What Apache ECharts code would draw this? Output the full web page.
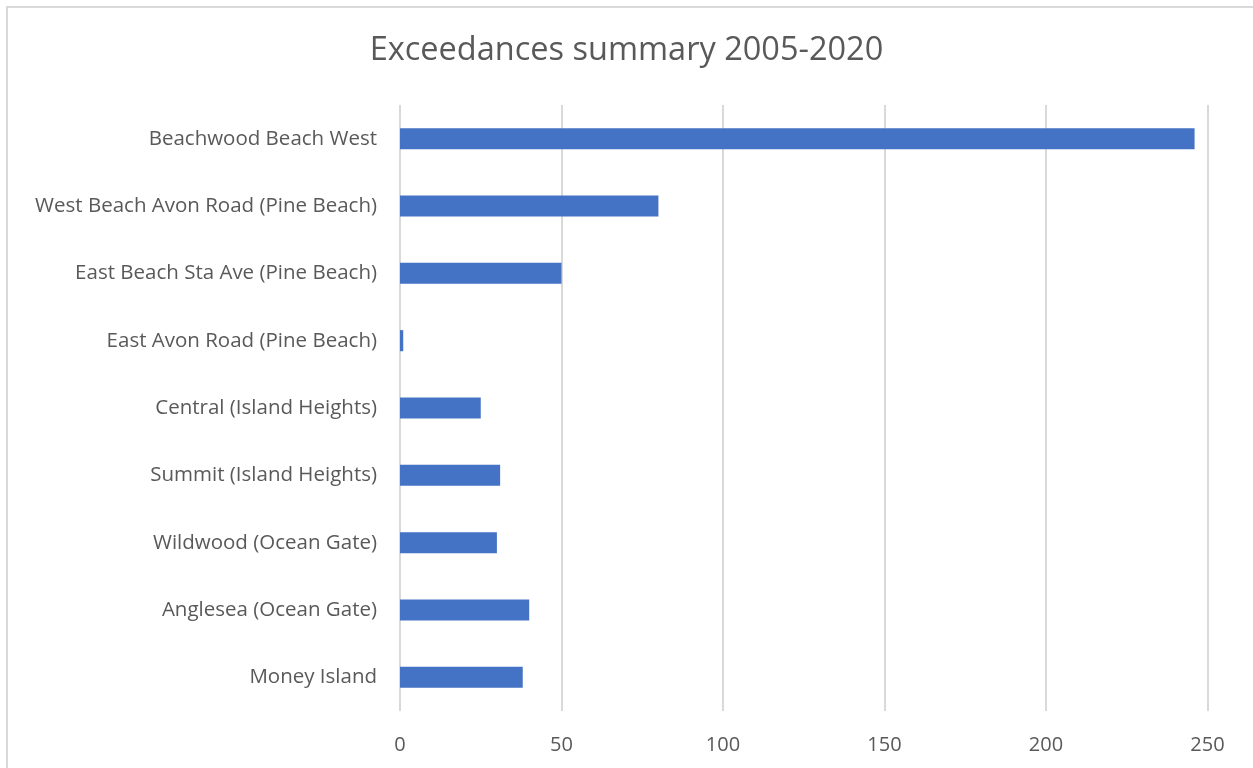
<!DOCTYPE html>
<html>
<head>
<meta charset="utf-8">
<script src="https://cdn.jsdelivr.net/npm/echarts@6/dist/echarts.min.js"></script>
<style>
  html, body { margin: 0; padding: 0; background: #fff; }
  #frame { position: absolute; left: 6px; top: 6px; width: 1260px; height: 800px; border-left: 2px solid #d9d9d9; border-top: 2px solid #d9d9d9; }
  #chart { position: absolute; left: 0; top: 0; width: 1253px; height: 768px; }
</style>
</head>
<body>
<div id="frame"></div>
<div id="chart"></div>
<script>
const titleText = 'Exceedances summary 2005-2020';
const categories = [
  'Beachwood Beach West',
  'West Beach Avon Road (Pine Beach)',
  'East Beach Sta Ave (Pine Beach)',
  'East Avon Road (Pine Beach)',
  'Central (Island Heights)',
  'Summit (Island Heights)',
  'Wildwood (Ocean Gate)',
  'Anglesea (Ocean Gate)',
  'Money Island'
];
const exceedances = [246, 80, 50, 1, 25, 31, 30, 40, 38];
const xTicks = [0, 50, 100, 150, 200, 250];

const chart = echarts.init(document.getElementById('chart'), null, { renderer: 'canvas' });
const fontFamily = '"Open Sans", "Noto Sans", sans-serif';
chart.setOption({
  animation: false,
  backgroundColor: 'transparent',
  title: {
    text: titleText,
    left: 'center',
    top: 29,
    textStyle: { fontFamily: fontFamily, fontSize: 32.5, fontWeight: 'normal', color: '#595959' }
  },
  grid: { left: 400, right: 45.5, top: 105, bottom: 57, containLabel: false },
  xAxis: {
    type: 'value',
    min: xTicks[0],
    max: xTicks[xTicks.length - 1],
    interval: xTicks[1] - xTicks[0],
    axisLine: { show: false },
    axisTick: { show: false },
    splitLine: { show: true, lineStyle: { color: '#d9d9d9', width: 2 } },
    axisLabel: { color: '#595959', fontFamily: fontFamily, fontSize: 20, margin: 24 }
  },
  yAxis: {
    type: 'category',
    data: categories,
    inverse: true,
    axisLine: { show: false },
    axisTick: { show: false },
    axisLabel: { color: '#595959', fontFamily: fontFamily, fontSize: 20.5, margin: 23, padding: [6, 0, 0, 0] }
  },
  series: [{
    type: 'bar',
    data: exceedances,
    barWidth: '31.3%',
    itemStyle: { color: '#4472C4' }
  }]
});
</script>
</body>
</html>
